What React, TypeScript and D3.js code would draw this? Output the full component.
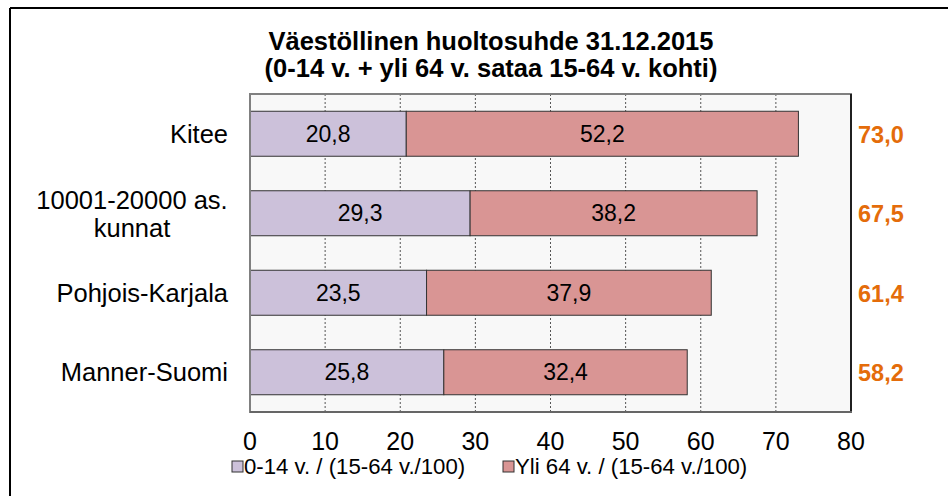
import React from "react";
import * as d3 from "d3";

const categories = ["Kitee", "10001-20000 as. kunnat", "Pohjois-Karjala", "Manner-Suomi"];
const categoryLines = [["Kitee"], ["10001-20000 as.", "kunnat"], ["Pohjois-Karjala"], ["Manner-Suomi"]];
const young = [20.8, 29.3, 23.5, 25.8];
const old = [52.2, 38.2, 37.9, 32.4];
const totals = [73.0, 67.5, 61.4, 58.2];
const xTicks = [0, 10, 20, 30, 40, 50, 60, 70, 80];
const seriesNames = ["0-14 v. / (15-64 v./100)", "Yli 64 v. / (15-64 v./100)"];
const titleLines = ["Väestöllinen huoltosuhde 31.12.2015", "(0-14 v. + yli 64 v. sataa 15-64 v. kohti)"];

const fmt = (v: number) => v.toFixed(1).replace(".", ",");

export default function App() {
  const W = 948, H = 496;
  const left = 250, right = 851, top = 94, bottom = 412;
  const x = d3.scaleLinear().domain([0, 80]).range([left, right]);
  const y = d3.scaleBand<string>().domain(categories).range([top, bottom]).padding(0);
  const barH = y.bandwidth() * 0.566;
  const colors = ["#ccc1da", "#d99594"];
  const font = "Arial, 'Liberation Sans', sans-serif";

  return (
    <svg width={W} height={H} style={{ position: "absolute", left: 0, top: 0, background: "#fff" }} fontFamily={font}>
      <rect x={0} y={0} width={W} height={H} fill="#fff" />
      {/* outer frame */}
      <line x1={10} y1={8} x2={W} y2={8} stroke="#000" strokeWidth={2} />
      <line x1={10} y1={8} x2={10} y2={H} stroke="#000" strokeWidth={2} />

      {/* title */}
      {titleLines.map((t, i) => (
        <text key={i} x={491} y={50 + i * 27} textAnchor="middle" fontSize={25.5} fontWeight="bold" fill="#000">{t}</text>
      ))}

      {/* plot background */}
      <rect x={left} y={top} width={right - left} height={bottom - top} fill="#f8f8f8" />

      {/* gridlines */}
      {xTicks.filter(t => t > 0 && t < 80).map(t => (
        <line key={t} x1={x(t)} x2={x(t)} y1={top} y2={bottom} stroke="#555" strokeWidth={1} strokeDasharray="2,2" />
      ))}

      {/* bars */}
      {categories.map((c, i) => {
        const cy = (y(c) as number) + y.bandwidth() / 2;
        const y0 = cy - barH / 2;
        return (
          <g key={c}>
            <rect x={x(0)} y={y0} width={x(young[i]) - x(0)} height={barH} fill={colors[0]} stroke="#333" strokeWidth={1} />
            <rect x={x(young[i])} y={y0} width={x(young[i] + old[i]) - x(young[i])} height={barH} fill={colors[1]} stroke="#333" strokeWidth={1} />
            <text x={(x(0) + x(young[i])) / 2} y={cy + 8} textAnchor="middle" fontSize={23} fill="#000">{fmt(young[i])}</text>
            <text x={(x(young[i]) + x(young[i] + old[i])) / 2} y={cy + 8} textAnchor="middle" fontSize={23} fill="#000">{fmt(old[i])}</text>
            <text x={858} y={cy + 9} fontSize={23.5} fontWeight="bold" fill="#e46c0a">{fmt(totals[i])}</text>
            {categoryLines[i].length === 1 ? (
              <text x={228} y={cy + 9} textAnchor="end" fontSize={25.5} fill="#000">{categoryLines[i][0]}</text>
            ) : (
              <g>
                <text x={132} y={cy - 4} textAnchor="middle" fontSize={25.5} fill="#000">{categoryLines[i][0]}</text>
                <text x={132} y={cy + 24} textAnchor="middle" fontSize={25.5} fill="#000">{categoryLines[i][1]}</text>
              </g>
            )}
          </g>
        );
      })}

      {/* plot border */}
      <rect x={left} y={top} width={right - left} height={bottom - top} fill="none" stroke="#808080" strokeWidth={2} />
      <line x1={right} x2={right} y1={top} y2={bottom} stroke="#000" strokeWidth={1.5} />
      <line x1={left} x2={right + 1} y1={bottom} y2={bottom} stroke="#666" strokeWidth={2} />

      {/* x tick labels */}
      {xTicks.map(t => (
        <text key={t} x={x(t)} y={450} textAnchor="middle" fontSize={25} fill="#000">{t}</text>
      ))}

      {/* legend */}
      {seriesNames.map((s, i) => {
        const lx = [232, 503][i];
        return (
          <g key={s}>
            <rect x={lx} y={461} width={11} height={11} fill={colors[i]} stroke="#333" strokeWidth={1} />
            <text x={lx + 12} y={474} fontSize={22.2} fill="#000">{s}</text>
          </g>
        );
      })}
    </svg>
  );
}
